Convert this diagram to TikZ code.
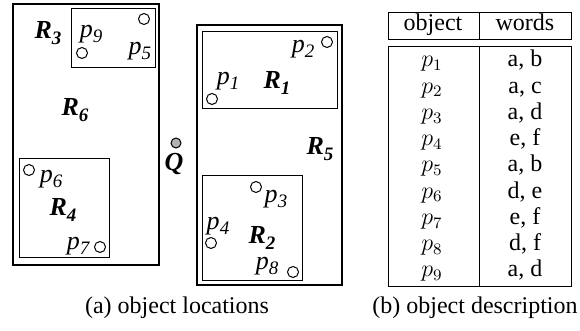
\documentclass[tikz,border=0pt]{standalone}
\usepackage{fontspec}
\setmainfont{Liberation Serif}
\newcommand{\lsub}[2]{#1\raisebox{-0.45ex}{\fontsize{9.5}{10}\selectfont #2}}
\begin{document}
\begin{tikzpicture}[x=0.5pt,y=-0.5pt,
  lbl/.style={font=\fontsize{13}{14}\selectfont\itshape, inner sep=0pt},
  reg/.style={font=\fontsize{13}{14}\selectfont\bfseries\itshape, inner sep=0pt},
  txt/.style={font=\fontsize{12}{14}\selectfont, inner sep=0pt, anchor=base},
  obj/.style={circle, draw, line width=0.5pt, minimum size=5.5pt, inner sep=0pt},
  outer/.style={draw, line width=1pt},
  inner/.style={draw, line width=0.5pt},
  tab/.style={draw, line width=0.45pt}]
\useasboundingbox (0,0) rectangle (580,331);
% left region R6
\draw[outer] (13,4) rectangle (159,265);
\draw[inner] (71,9) rectangle (155,68);
\draw[inner] (19,159) rectangle (109,258);
\node[reg] (R3) at (48,33) {\lsub{R}{3}};
\node[lbl] (l9) at (91,34) {\lsub{p}{9}};
\node[obj] (p9) at (82,53) {};
\node[lbl] (l5) at (140,51) {\lsub{p}{5}};
\node[obj] (p5) at (144,19) {};
\node[reg] (R6) at (75,110) {\lsub{R}{6}};
\node[obj] (p6) at (29,170) {};
\node[lbl] (l6) at (51,179) {\lsub{p}{6}};
\node[reg] (R4) at (63,210) {\lsub{R}{4}};
\node[lbl] (l7) at (78,246) {\lsub{p}{7}};
\node[obj] (p7) at (100,247) {};
% query
\node[circle, draw, line width=0.5pt, fill=black!30, minimum size=5pt, inner sep=0pt] (q) at (176,143) {};
\node[reg] (Q) at (174,164) {Q};
% right region R5
\draw[outer] (197,25) rectangle (342,285);
\draw[inner] (202,32) rectangle (337,109);
\draw[inner] (202,176) rectangle (302,281);
\node[obj] (p2) at (327,42) {};
\node[lbl] (l2) at (303,49) {\lsub{p}{2}};
\node[lbl] (l1) at (228,81) {\lsub{p}{1}};
\node[obj] (p1) at (212,99) {};
\node[reg] (R1) at (277,83) {\lsub{R}{1}};
\node[reg] (R5) at (320,149) {\lsub{R}{5}};
\node[obj] (p3) at (256,187) {};
\node[lbl] (l3) at (276,199) {\lsub{p}{3}};
\node[lbl] (l4) at (218,226) {\lsub{p}{4}};
\node[obj] (p4) at (211,243) {};
\node[reg] (R2) at (262,238) {\lsub{R}{2}};
\node[lbl] (l8) at (267,266) {\lsub{p}{8}};
\node[obj] (p8) at (293,272) {};
% table
\draw[tab] (388,12) rectangle (571,39);
\draw[tab] (479,12) -- (479,39);
\draw[tab] (388,46) rectangle (571,286);
\draw[tab] (479,46) -- (479,286);
\node[txt] (h1) at (433,31) {object};
\node[txt] (h2) at (525,31) {words};
\foreach \i/\w in {1/{a, b},2/{a, c},3/{a, d},4/{e, f},5/{a, b},6/{d, e},7/{e, f},8/{d, f},9/{a, d}}{
  \node[txt] (o\i) at (432,{67+26.25*(\i-1)}) {$p_{\i}$};
  \node[txt] (w\i) at (525,{67+26.25*(\i-1)}) {\w};
}
% captions
\node[txt] (capa) at (177,314) {(a) object locations};
\node[txt] (capb) at (475,314) {(b) object description};
\end{tikzpicture}
\end{document}
